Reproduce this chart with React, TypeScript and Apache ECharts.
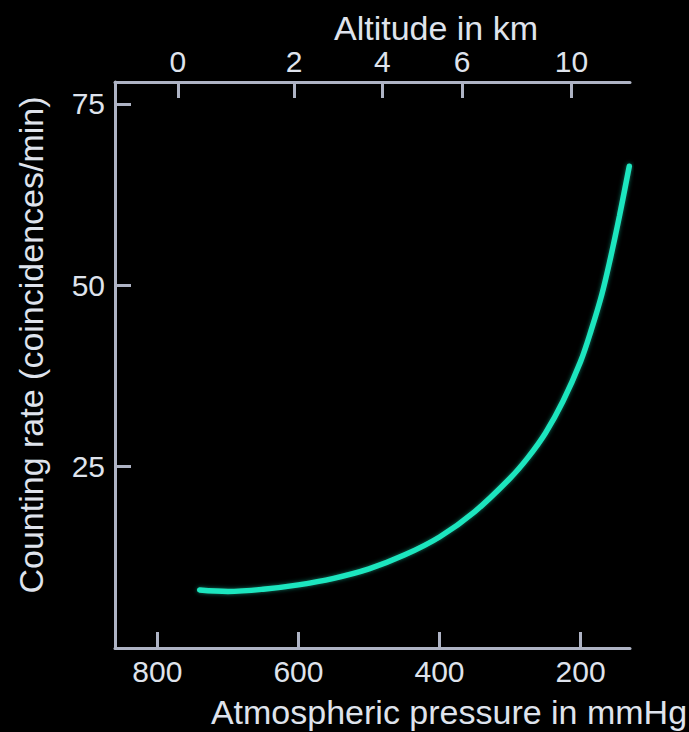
import React, { useEffect, useRef } from "react";
import * as echarts from "echarts";

// Pressure (mmHg) vs counting rate (coincidences/min)
const pressure = [740, 700, 650, 600, 550, 500, 450, 400, 350, 300, 275, 250, 225, 200, 185, 170, 158, 145, 131];
const countRate = [8.0, 7.8, 8.1, 8.7, 9.6, 10.9, 12.8, 15.3, 18.8, 23.4, 26.2, 29.6, 34.0, 39.5, 43.8, 48.7, 53.6, 59.5, 66.4];

const pressureTicks = [800, 600, 400, 200];
const rateTicks = [25, 50, 75];
const altitudeKm = ["0", "2", "4", "6", "10"];
const altitudePressure = [771, 606, 481, 368, 213];

const FONT = "'Liberation Sans', Arial, Helvetica, sans-serif";
const AXIS = "#aeb3c4";
const TEXT = "#dfe3ec";

export default function App() {
  const ref = useRef<HTMLDivElement>(null);
  useEffect(() => {
    if (!ref.current) return;
    const chart = echarts.init(ref.current, null, { renderer: "svg" });
    const axisCommon = {
      axisLine: { show: true, lineStyle: { color: AXIS, width: 3 } },
      axisTick: { show: true, inside: true, length: 16, lineStyle: { color: AXIS, width: 3 } },
      splitLine: { show: false },
    };
    chart.setOption({
      animation: false,
      backgroundColor: "#000",
      grid: { left: 115, right: 59, top: 82, bottom: 84 },
      xAxis: [
        {
          type: "value",
          position: "bottom",
          inverse: true,
          min: 130,
          max: 860,
          ...axisCommon,
          axisTick: { ...axisCommon.axisTick, customValues: pressureTicks },
          axisLabel: {
            customValues: pressureTicks,
            color: TEXT,
            fontSize: 30,
            fontFamily: FONT,
            margin: 8,
          },
        },
        {
          type: "value",
          position: "top",
          inverse: true,
          min: 130,
          max: 860,
          ...axisCommon,
          axisTick: { ...axisCommon.axisTick, customValues: altitudePressure },
          axisLabel: {
            customValues: altitudePressure,
            color: TEXT,
            fontSize: 30,
            fontFamily: FONT,
            margin: 6,
            formatter: (v: number) => {
              const i = altitudePressure.indexOf(v);
              return i >= 0 ? altitudeKm[i] : "";
            },
          },
        },
      ],
      yAxis: {
        type: "value",
        min: 0,
        max: 78,
        ...axisCommon,
        axisTick: { ...axisCommon.axisTick, customValues: rateTicks },
        axisLabel: {
          customValues: rateTicks,
          color: TEXT,
          fontSize: 30,
          fontFamily: FONT,
          margin: 10,
        },
      },
      graphic: [
        {
          type: "text",
          x: 436,
          y: 28,
          style: {
            text: "Altitude in km",
            fill: TEXT,
            font: `34px ${FONT}`,
            textAlign: "center",
            textVerticalAlign: "middle",
          },
        },
        {
          type: "text",
          x: 449,
          y: 712,
          style: {
            text: "Atmospheric pressure in mmHg",
            fill: TEXT,
            font: `34px ${FONT}`,
            textAlign: "center",
            textVerticalAlign: "middle",
          },
        },
        {
          type: "text",
          x: 31,
          y: 345,
          rotation: Math.PI / 2,
          style: {
            text: "Counting rate (coincidences/min)",
            fill: TEXT,
            font: `34px ${FONT}`,
            textAlign: "center",
            textVerticalAlign: "middle",
          },
        },
      ],
      series: [
        {
          type: "line",
          xAxisIndex: 0,
          data: pressure.map((p, i) => [p, countRate[i]]),
          smooth: 0.35,
          showSymbol: false,
          clip: false,
          lineStyle: {
            color: "#1fe6bf",
            width: 5.5,
            cap: "round",
            shadowColor: "rgba(31,230,191,0.5)",
            shadowBlur: 4,
          },
        },
      ],
    });
    return () => chart.dispose();
  }, []);
  return (
    <div
      ref={ref}
      style={{ position: "fixed", left: 0, top: 0, width: 689, height: 732, background: "#000" }}
    />
  );
}
